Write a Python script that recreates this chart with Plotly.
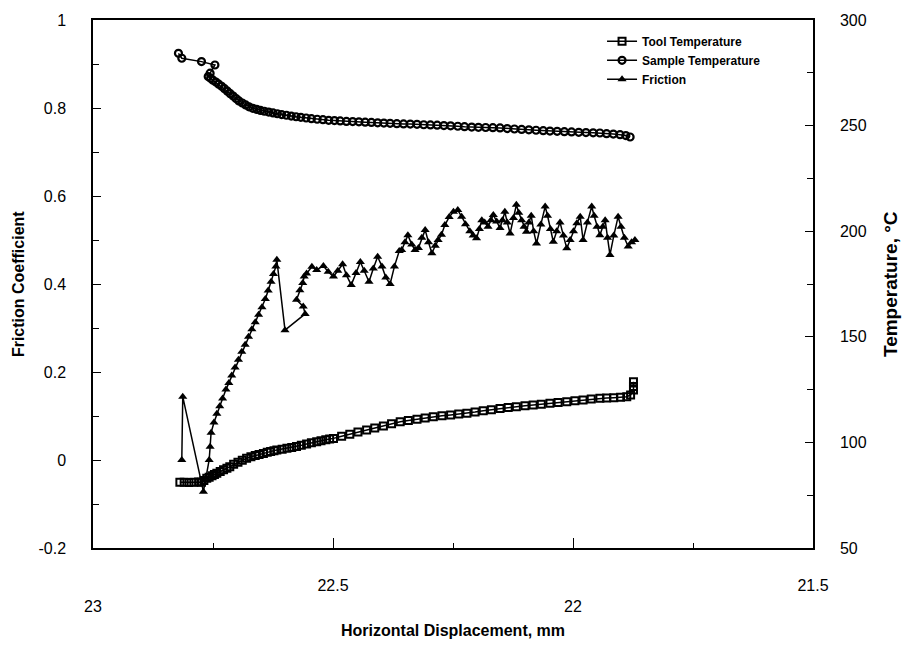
import plotly.graph_objects as go

# ---------------- data ----------------
friction_x = [22.815, 22.813, 22.770, 22.758, 22.756, 22.754, 22.748, 22.742, 22.736, 22.730,
              22.723, 22.717, 22.711, 22.704, 22.697, 22.690, 22.683, 22.676, 22.669, 22.662,
              22.655, 22.648, 22.641, 22.635, 22.629, 22.624, 22.619, 22.617, 22.600, 22.558,
              22.562, 22.576, 22.569, 22.563, 22.560, 22.555, 22.544, 22.534, 22.520, 22.510,
              22.499, 22.490, 22.480, 22.472, 22.462, 22.452, 22.443, 22.435, 22.425, 22.416,
              22.407, 22.398, 22.390, 22.381, 22.372, 22.362, 22.357, 22.350, 22.344, 22.336,
              22.329, 22.322, 22.315, 22.308, 22.301, 22.294, 22.287, 22.281, 22.274, 22.267,
              22.258, 22.249, 22.240, 22.232, 22.224, 22.215, 22.208, 22.201, 22.195, 22.190,
              22.184, 22.177, 22.171, 22.166, 22.159, 22.152, 22.147, 22.142, 22.137, 22.131,
              22.124, 22.118, 22.113, 22.107, 22.102, 22.097, 22.092, 22.087, 22.082, 22.076,
              22.067, 22.058, 22.053, 22.047, 22.041, 22.034, 22.027, 22.020, 22.013, 22.006,
              21.999, 21.992, 21.985, 21.979, 21.970, 21.961, 21.956, 21.950, 21.944, 21.938,
              21.933, 21.928, 21.923, 21.915, 21.906, 21.900, 21.893, 21.885, 21.878, 21.871]
friction_y = [0.000, 0.144, -0.072, 0.000, 0.030, 0.062, 0.085, 0.105, 0.122, 0.140,
              0.160, 0.175, 0.192, 0.210, 0.228, 0.246, 0.262, 0.280, 0.297, 0.313,
              0.330, 0.347, 0.366, 0.385, 0.405, 0.423, 0.440, 0.455, 0.295, 0.332,
              0.349, 0.364, 0.386, 0.402, 0.417, 0.424, 0.439, 0.432, 0.441, 0.428,
              0.417, 0.430, 0.445, 0.420, 0.398, 0.425, 0.450, 0.430, 0.405, 0.435,
              0.462, 0.440, 0.415, 0.400, 0.440, 0.475, 0.477, 0.495, 0.511, 0.490,
              0.477, 0.482, 0.505, 0.523, 0.495, 0.470, 0.487, 0.500, 0.512, 0.534,
              0.552, 0.564, 0.568, 0.553, 0.536, 0.520, 0.510, 0.504, 0.525, 0.545,
              0.540, 0.530, 0.545, 0.557, 0.542, 0.527, 0.545, 0.564, 0.540, 0.515,
              0.550, 0.580, 0.562, 0.545, 0.530, 0.519, 0.540, 0.555, 0.520, 0.492,
              0.535, 0.576, 0.555, 0.525, 0.496, 0.520, 0.540, 0.510, 0.481, 0.500,
              0.520, 0.538, 0.553, 0.500, 0.540, 0.576, 0.555, 0.530, 0.511, 0.530,
              0.545, 0.505, 0.466, 0.510, 0.553, 0.530, 0.505, 0.485, 0.495, 0.500]

sample_x = [22.822, 22.815, 22.774, 22.746, 22.756, 22.760, 22.755, 22.750, 22.744, 22.738,
            22.732, 22.726, 22.720, 22.714, 22.708, 22.702, 22.696, 22.689, 22.682, 22.675,
            22.667, 22.659, 22.651, 22.643, 22.634, 22.625, 22.616, 22.607, 22.597, 22.587,
            22.577, 22.567, 22.556, 22.545, 22.533, 22.521, 22.509, 22.497, 22.485, 22.472,
            22.459, 22.446, 22.433, 22.420, 22.407, 22.394, 22.381, 22.367, 22.353, 22.339,
            22.325, 22.311, 22.297, 22.283, 22.269, 22.255, 22.240, 22.226, 22.211, 22.197,
            22.182, 22.167, 22.152, 22.137, 22.122, 22.107, 22.092, 22.077, 22.062, 22.048,
            22.033, 22.018, 22.003, 21.988, 21.973, 21.958, 21.944, 21.930, 21.916, 21.902,
            21.890, 21.881]
sample_t = [284.2, 281.9, 280.3, 278.7, 274.8, 273.2, 272.4, 271.5, 270.6, 269.6,
            268.6, 267.5, 266.3, 265.1, 264.0, 262.8, 261.7, 260.7, 259.8, 258.9,
            258.2, 257.7, 257.2, 256.8, 256.4, 256.0, 255.6, 255.2, 254.9, 254.5,
            254.2, 253.9, 253.6, 253.3, 253.0, 252.8, 252.5, 252.4, 252.2, 252.0,
            251.9, 251.8, 251.6, 251.5, 251.3, 251.2, 251.1, 250.9, 250.8, 250.7,
            250.6, 250.4, 250.3, 250.2, 250.0, 249.9, 249.7, 249.5, 249.3, 249.2,
            249.1, 249.0, 248.9, 248.6, 248.4, 248.2, 248.0, 247.8, 247.6, 247.4,
            247.3, 247.1, 247.0, 246.8, 246.7, 246.6, 246.5, 246.2, 246.0, 245.7,
            245.3, 244.6]

tool_x = [22.819, 22.810, 22.800, 22.790, 22.780, 22.774, 22.769, 22.763, 22.758, 22.752,
          22.747, 22.742, 22.735, 22.728, 22.721, 22.715, 22.707, 22.698, 22.689, 22.680,
          22.671, 22.662, 22.654, 22.645, 22.637, 22.630, 22.623, 22.617, 22.606, 22.596,
          22.586, 22.576, 22.566, 22.555, 22.545, 22.534, 22.525, 22.515, 22.507, 22.499,
          22.482, 22.465, 22.448, 22.430, 22.413, 22.395, 22.378, 22.360, 22.343, 22.325,
          22.308, 22.291, 22.273, 22.255, 22.238, 22.221, 22.204, 22.187, 22.170, 22.152,
          22.135, 22.118, 22.100, 22.083, 22.066, 22.048, 22.031, 22.013, 21.996, 21.979,
          21.962, 21.944, 21.930, 21.915, 21.901, 21.888, 21.880, 21.874, 21.874, 21.874]
tool_t = [81.1, 81.1, 81.0, 81.1, 81.2, 81.1, 82.0, 83.0, 83.5, 84.2,
          84.8, 85.4, 86.2, 87.0, 87.8, 88.5, 89.6, 90.6, 91.6, 92.5,
          93.2, 93.8, 94.3, 94.8, 95.3, 95.7, 96.1, 96.4, 96.8, 97.2,
          97.6, 98.0, 98.6, 99.2, 99.8, 100.3, 100.8, 101.3, 101.6, 101.9,
          102.9, 103.9, 104.9, 105.9, 106.8, 107.8, 108.8, 109.8, 110.4, 111.0,
          111.6, 112.2, 112.6, 113.0, 113.4, 113.8, 114.4, 115.0, 115.5, 116.1,
          116.5, 116.9, 117.3, 117.7, 118.1, 118.5, 118.9, 119.3, 119.7, 120.1,
          120.5, 120.9, 121.0, 121.2, 121.4, 121.6, 122.5, 124.8, 126.5, 128.7]

x_tickvals = [23, 22.5, 22, 21.5]
x_ticktext = ["<br>23", "22.5", "<br>22", "21.5"]
y_tickvals = [-0.2, 0, 0.2, 0.4, 0.6, 0.8, 1]
y_ticktext = ["-0.2", "0", "0.2", "0.4", "0.6", "0.8", "1"]
y2_tickvals = [50, 100, 150, 200, 250, 300]

FONT = "Arial, Liberation Sans, sans-serif"

fig = go.Figure()
fig.add_trace(go.Scatter(
    x=tool_x, y=tool_t, name="Tool Temperature", yaxis="y2", mode="lines+markers",
    line=dict(color="black", width=1.5),
    marker=dict(symbol="square-open", size=7, color="black", line=dict(width=2))))
fig.add_trace(go.Scatter(
    x=sample_x, y=sample_t, name="Sample Temperature", yaxis="y2", mode="lines+markers",
    line=dict(color="black", width=1.5),
    marker=dict(symbol="circle-open", size=7, color="black", line=dict(width=2.2))))
fig.add_trace(go.Scatter(
    x=friction_x, y=friction_y, name="Friction", yaxis="y", mode="lines+markers",
    line=dict(color="black", width=1.5),
    marker=dict(symbol="triangle-up", size=8, color="black")))

axis_common = dict(showline=True, linecolor="black", linewidth=1.5, ticks="inside",
                   tickcolor="black", tickwidth=1, showgrid=False, zeroline=False,
                   tickfont=dict(family=FONT, size=16, color="black"))

fig.update_layout(
    width=904, height=647,
    margin=dict(l=93, r=91, t=20, b=99),
    paper_bgcolor="white", plot_bgcolor="white",
    font=dict(family=FONT, color="black"),
    xaxis=dict(range=[23, 21.5], tickvals=x_tickvals, ticktext=x_ticktext,
               ticklen=10, mirror=True, ticklabelstandoff=22,
               minor=dict(dtick=0.25, ticks="inside", ticklen=5, tickcolor="black", showgrid=False),
               **axis_common),
    yaxis=dict(range=[-0.2, 1], tickvals=y_tickvals, ticktext=y_ticktext,
               ticklen=8, ticklabelstandoff=22,
               minor=dict(dtick=0.1, ticks="inside", ticklen=6, tickcolor="black", showgrid=False),
               **axis_common),
    yaxis2=dict(range=[50, 300], tickvals=y2_tickvals, overlaying="y", side="right",
                ticklen=8, ticklabelstandoff=22,
                minor=dict(dtick=25, ticks="inside", ticklen=6, tickcolor="black", showgrid=False),
                **axis_common),
    showlegend=True,
    legend=dict(x=0.707, y=0.987, xanchor="left", yanchor="top",
                bgcolor="rgba(0,0,0,0)", traceorder="normal",
                font=dict(family=FONT, size=12, color="black", weight="bold")),
    annotations=[
        dict(text="<b>Horizontal Displacement, mm</b>", xref="paper", yref="paper",
             x=0.5, y=-0.157, xanchor="center", yanchor="middle", showarrow=False,
             font=dict(family=FONT, size=16, color="black")),
        dict(text="<b>Friction Coefficient</b>", xref="paper", yref="paper",
             x=-0.104, y=0.5, xanchor="center", yanchor="middle", textangle=-90, showarrow=False,
             font=dict(family=FONT, size=16, color="black")),
        dict(text="<b>Temperature, °C</b>", xref="paper", yref="paper",
             x=1.107, y=0.5, xanchor="center", yanchor="middle", textangle=-90, showarrow=False,
             font=dict(family=FONT, size=19, color="black")),
    ],
)

fig.write_html("out.html")
